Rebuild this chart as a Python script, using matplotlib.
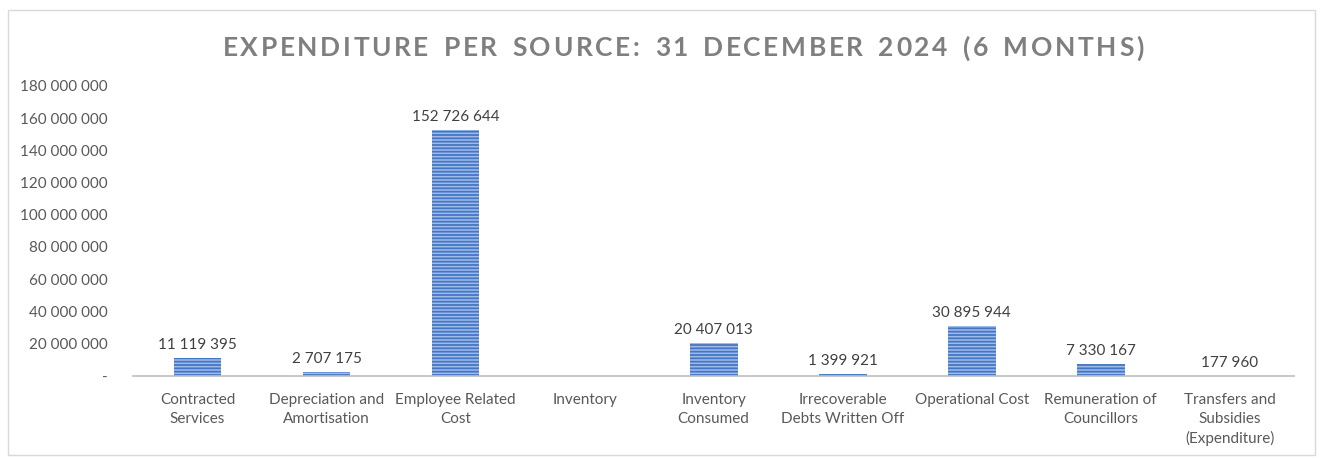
import numpy as np
import matplotlib.pyplot as plt
from matplotlib.patches import Rectangle

plt.rcParams['font.family'] = ['Lato', 'DejaVu Sans']
plt.rcParams['hatch.linewidth'] = 1.3

# data
categories = ['Contracted\nServices', 'Depreciation and\nAmortisation', 'Employee Related\nCost',
              'Inventory', 'Inventory\nConsumed', 'Irrecoverable\nDebts Written Off',
              'Operational Cost', 'Remuneration of\nCouncillors', 'Transfers and\nSubsidies\n(Expenditure)']
values = [11119395, 2707175, 152726644, 0, 20407013, 1399921, 30895944, 7330167, 177960]
labels = ['11 119 395', '2 707 175', '152 726 644', '', '20 407 013', '1 399 921',
          '30 895 944', '7 330 167', '177 960']
yticks = np.arange(0, 180000001, 20000000)
title = 'EXPENDITURE PER SOURCE: 31 DECEMBER 2024 (6 MONTHS)'

fig = plt.figure(figsize=(13.24, 4.59), dpi=100)
fig.patches.append(Rectangle((0.006, 0.008), 0.987, 0.97, transform=fig.transFigure,
                             fill=False, edgecolor='#d9d9d9', linewidth=1))
ax = fig.add_axes([0.1005, 0.181, 0.877, 0.632])

x = np.arange(len(categories))
bars = ax.bar(x, values, width=0.37, color='#9fbce8', edgecolor='#4576c6',
              linewidth=0, hatch='-----')

for xi, v, lab in zip(x, values, labels):
    if lab:
        ax.text(xi, v + 3500000, lab, ha='center', va='bottom', fontsize=11, color='#404040')

ax.set_xlim(-0.5, len(categories) - 0.5)
ax.set_ylim(0, 180000000)
ax.set_yticks(yticks)
ax.set_yticklabels(['-'] + [f'{t:,}'.replace(',', ' ') for t in yticks[1:]])
ax.set_xticks(x)
ax.set_xticklabels(categories, linespacing=1.45, va='top')
ax.tick_params(axis='both', length=0, labelsize=11, colors='#595959')
ax.tick_params(axis='x', pad=12)
ax.tick_params(axis='y', pad=18)
for s in ['top', 'right', 'left']:
    ax.spines[s].set_visible(False)
ax.spines['bottom'].set_color('#bfbfbf')
ax.spines['bottom'].set_linewidth(1.2)

# title with letter spacing, drawn one character at a time
r = fig.canvas.get_renderer()
tracking = 2.6
widths = []
for ch in title:
    t = fig.text(0, 0, ch if ch != ' ' else 'I', fontsize=19, fontweight='bold')
    w = t.get_window_extent(r).width
    if ch == ' ':
        w *= 1.3
    widths.append(w)
    t.remove()
total = sum(widths) + tracking * (len(title) - 1)
xpix = 683 - total / 2
for ch, w in zip(title, widths):
    if ch != ' ':
        fig.text(xpix / 1324, 0.895, ch, ha='left', va='center', fontsize=19,
                 fontweight='bold', color='#7f7f7f')
    xpix += w + tracking

fig.savefig('out.png', dpi=100)
